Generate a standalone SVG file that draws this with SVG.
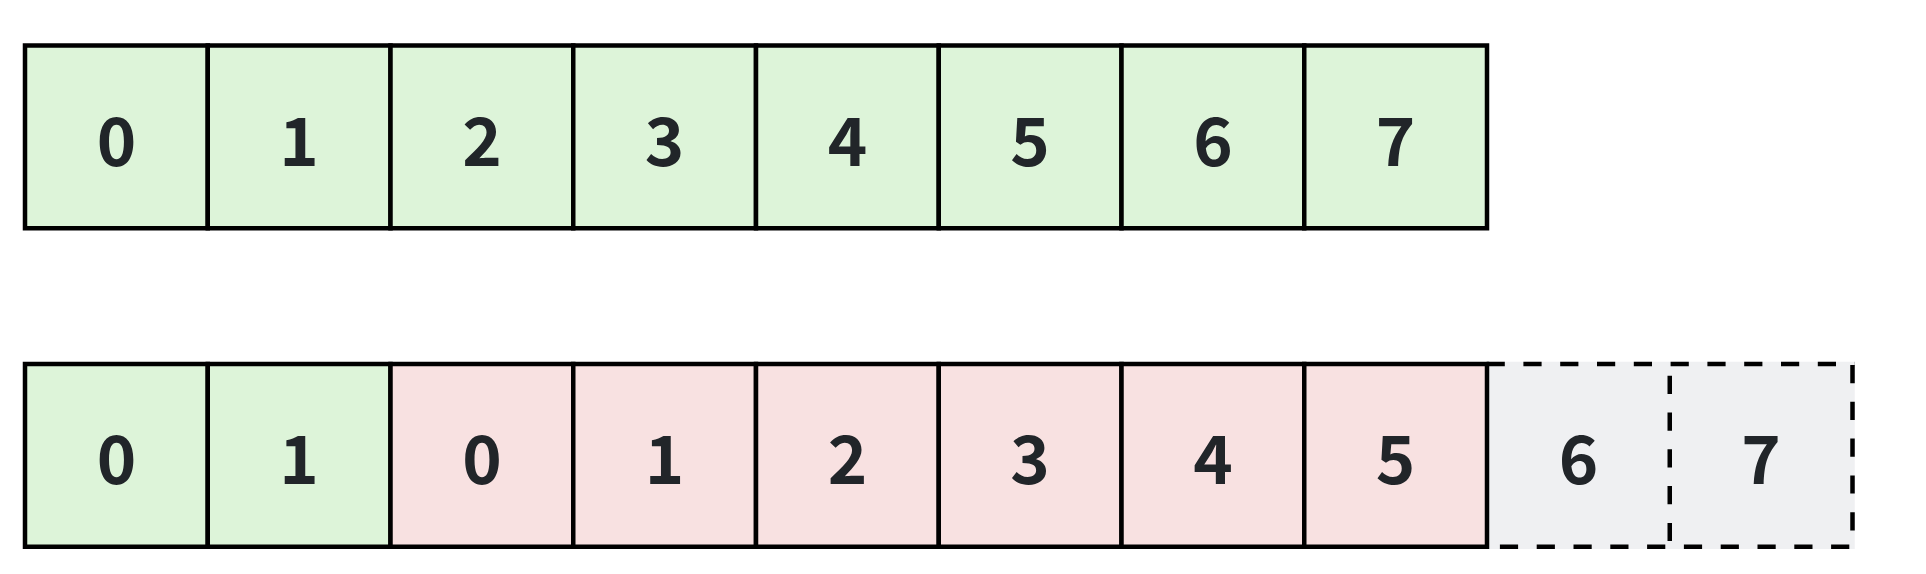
<svg xmlns="http://www.w3.org/2000/svg" width="1926" height="574" viewBox="0 0 1926 574">
<style>
.cell{stroke:#000;stroke-width:4.5}
.g{fill:#ddf4d9}
.p{fill:#f8e1e1}
.d{stroke:#000;stroke-width:4.5;stroke-dasharray:18.2 18.6;fill:none}
text{font-family:"Noto Sans CJK SC","Noto Sans",sans-serif;font-weight:700;font-size:67px;fill:#212529;text-anchor:middle}
</style>
<rect width="1926" height="574" fill="#fff"/>
<g id="top-row">
<g id="t0"><rect class="cell g" x="25" y="45.5" width="182.75" height="182.75"/><text x="116.4" y="165.5">0</text></g>
<g id="t1"><rect class="cell g" x="207.75" y="45.5" width="182.75" height="182.75"/><text x="299.1" y="165.5">1</text></g>
<g id="t2"><rect class="cell g" x="390.5" y="45.5" width="182.75" height="182.75"/><text x="481.9" y="165.5">2</text></g>
<g id="t3"><rect class="cell g" x="573.25" y="45.5" width="182.75" height="182.75"/><text x="664.6" y="165.5">3</text></g>
<g id="t4"><rect class="cell g" x="756" y="45.5" width="182.75" height="182.75"/><text x="847.4" y="165.5">4</text></g>
<g id="t5"><rect class="cell g" x="938.75" y="45.5" width="182.75" height="182.75"/><text x="1030.1" y="165.5">5</text></g>
<g id="t6"><rect class="cell g" x="1121.5" y="45.5" width="182.75" height="182.75"/><text x="1212.9" y="165.5">6</text></g>
<g id="t7"><rect class="cell g" x="1304.25" y="45.5" width="182.75" height="182.75"/><text x="1395.6" y="165.5">7</text></g>
</g>
<g id="bottom-row">
<g id="ghost">
<rect x="1487" y="361.75" width="367.75" height="187.25" fill="#eff0f2"/>
<line class="d" x1="1486.6" y1="364" x2="1854.75" y2="364"/>
<line class="d" x1="1852.5" y1="365" x2="1852.5" y2="549"/>
<line class="d" x1="1849.3" y1="546.75" x2="1487" y2="546.75"/>
<line class="d" x1="1669.75" y1="375.7" x2="1669.75" y2="546.75"/>
</g>
<g id="b0"><rect class="cell g" x="25" y="364" width="182.75" height="182.75"/><text x="116.4" y="484">0</text></g>
<g id="b1"><rect class="cell g" x="207.75" y="364" width="182.75" height="182.75"/><text x="299.1" y="484">1</text></g>
<g id="b2"><rect class="cell p" x="390.5" y="364" width="182.75" height="182.75"/><text x="481.9" y="484">0</text></g>
<g id="b3"><rect class="cell p" x="573.25" y="364" width="182.75" height="182.75"/><text x="664.6" y="484">1</text></g>
<g id="b4"><rect class="cell p" x="756" y="364" width="182.75" height="182.75"/><text x="847.4" y="484">2</text></g>
<g id="b5"><rect class="cell p" x="938.75" y="364" width="182.75" height="182.75"/><text x="1030.1" y="484">3</text></g>
<g id="b6"><rect class="cell p" x="1121.5" y="364" width="182.75" height="182.75"/><text x="1212.9" y="484">4</text></g>
<g id="b7"><rect class="cell p" x="1304.25" y="364" width="182.75" height="182.75"/><text x="1395.6" y="484">5</text></g>
<g id="b8"><text x="1578.4" y="484">6</text></g>
<g id="b9"><text x="1761.1" y="484">7</text></g>
</g>
<g id="connectors"/>
</svg>
